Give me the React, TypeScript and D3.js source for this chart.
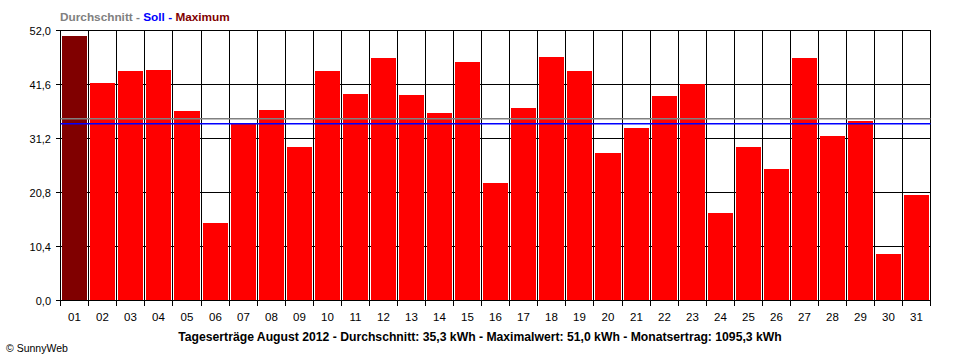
import React from "react";
import * as d3 from "d3";

const days = ["01","02","03","04","05","06","07","08","09","10","11","12","13","14","15","16","17","18","19","20","21","22","23","24","25","26","27","28","29","30","31"];
const yields = [51.0,41.9,44.2,44.4,36.5,14.9,34.1,36.7,29.5,44.2,39.7,46.7,39.5,36.1,45.9,22.6,37.0,46.9,44.2,28.4,33.2,39.4,41.7,16.8,29.5,25.3,46.7,31.6,34.5,8.9,20.3];
const yTicks = [0, 10.4, 20.8, 31.2, 41.6, 52.0];
const averageValue = 35.1;
const targetValue = 34.1;
const legendParts = [
  { text: "Durchschnitt - ", color: "#808080" },
  { text: "Soll - ", color: "#0000ff" },
  { text: "Maximum", color: "#800000" },
];
const footerTitle = "Tageserträge August 2012 - Durchschnitt: 35,3 kWh - Maximalwert: 51,0 kWh - Monatsertrag: 1095,3 kWh";
const copyright = "© SunnyWeb";

export default function App() {
  const W = 960, H = 360;
  const left = 60.5, right = 930.5, top = 30.5, bottom = 300.5;
  const x = d3.scaleBand<string>().domain(days).range([left - 0.3, right - 0.2]).paddingInner(0).paddingOuter(0);
  const y = d3.scaleLinear().domain([0, 52]).range([bottom, top]);
  const maxV = d3.max(yields) as number;
  const bw = x.bandwidth();
  const edge = (i: number) => Math.round(x(days[0])! + i * bw) + 0.5;
  const font = "'Liberation Sans', Arial, sans-serif";
  const fmt = (v: number) => v.toFixed(1).replace(".", ",");
  const crisp = (v: number) => Math.round(v - 0.5) + 0.5;

  return (
    <svg width={W} height={H} style={{ position: "absolute", left: 0, top: 0, background: "#fff" }}>
      <rect x={0} y={0} width={W} height={H} fill="#fff" />
      <text x={60} y={21} fontFamily={font} fontSize={11.8} fontWeight="bold">
        {legendParts.map((p, i) => (
          <tspan key={i} fill={p.color}>{p.text}</tspan>
        ))}
      </text>
      {yTicks.map((t) => (
        <g key={t}>
          <line x1={left - 5} x2={right} y1={crisp(y(t))} y2={crisp(y(t))} stroke="#000" strokeWidth={1} shapeRendering="crispEdges" />
          <text x={51} y={crisp(y(t)) + 4} textAnchor="end" fontFamily={font} fontSize={11} fill="#000">{fmt(t)}</text>
        </g>
      ))}
      {d3.range(days.length + 1).map((i) => (
        <line key={i} x1={edge(i)} x2={edge(i)} y1={top} y2={bottom + 5} stroke="#000" strokeWidth={1} shapeRendering="crispEdges" />
      ))}
      {yields.map((v, i) => {
        const x0 = edge(i), x1 = edge(i + 1);
        return (
          <rect key={days[i]} x={x0 + 1.5} y={Math.round(y(v))} width={x1 - x0 - 3} height={bottom - 0.5 - Math.round(y(v))}
            fill={v === maxV ? "#800000" : "#ff0000"} shapeRendering="crispEdges" />
        );
      })}
      <rect x={left} width={right - left} y={Math.floor(y(averageValue))} height={1.5} fill="#808080" />
      <rect x={left} width={right - left} y={Math.floor(y(targetValue))} height={1.5} fill="#0000ff" />
      {days.map((d, i) => (
        <text key={d} x={(edge(i) + edge(i + 1)) / 2} y={321} textAnchor="middle" fontFamily={font} fontSize={11.5} fill="#000">{d}</text>
      ))}
      <text x={480} y={341} textAnchor="middle" fontFamily={font} fontSize={12.2} fontWeight="bold" fill="#000">{footerTitle}</text>
      <text x={6} y={352} fontFamily={font} fontSize={10.5} fill="#000">{copyright}</text>
    </svg>
  );
}
